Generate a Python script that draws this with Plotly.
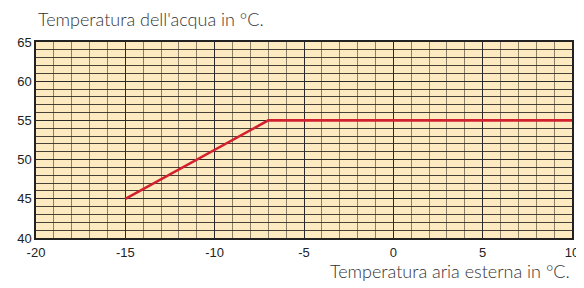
import plotly.graph_objects as go

x_air = [-15, -7, 10]
y_water = [45, 55, 55]
x_ticks = [-20, -15, -10, -5, 0, 5, 10]
x_labels = ["-20", "-15", "-10", "-5", "0", "5", "10"]
y_ticks = [40, 45, 50, 55, 60, 65]
y_labels = ["40", "45", "50", "55", "60", "65"]

fig = go.Figure()
fig.add_trace(go.Scatter(x=x_air, y=y_water, mode="lines",
                         line=dict(color="#d2202e", width=2.6), hoverinfo="skip"))

# page body has an 8px margin, so the figure is drawn at (8, 8)
fig.update_layout(
    width=576, height=280,
    margin=dict(l=28, r=12, t=34, b=50, autoexpand=False),
    paper_bgcolor="white", plot_bgcolor="#fdeac0",
    showlegend=False,
    font=dict(family="Liberation Sans, Arial", size=13, color="#222"),
)
fig.update_xaxes(
    range=[-20, 10], tickvals=x_ticks, ticktext=x_labels, ticks="", showgrid=True,
    automargin=False,
    gridcolor="#2a2a2a", gridwidth=1.3,
    minor=dict(dtick=1, showgrid=True, gridcolor="rgba(80,70,55,0.65)", gridwidth=1),
    showline=True, linecolor="#222", linewidth=1.5, mirror=True, zeroline=False,
    tickfont=dict(size=13, color="#222"), ticklabelstandoff=2,
)
fig.update_yaxes(
    range=[40, 65], tickvals=y_ticks, ticktext=y_labels, ticks="", showgrid=True,
    automargin=False,
    gridcolor="#2a2a2a", gridwidth=1.3,
    minor=dict(dtick=1, showgrid=True, gridcolor="rgba(40,35,30,0.85)", gridwidth=1),
    showline=True, linecolor="#222", linewidth=1.5, mirror=True, zeroline=False,
    tickfont=dict(size=13, color="#222"), ticklabelstandoff=0,
)
fig.add_annotation(text="Temperatura dell'acqua in °C.", xref="paper", yref="paper",
                   x=0.0, y=1.0, yshift=10, xanchor="left", yanchor="bottom",
                   showarrow=False,
                   font=dict(family="Lato, Open Sans", size=18, color="#333", weight=300))
fig.add_annotation(text="Temperatura aria esterna in °C.", xref="paper", yref="paper",
                   x=1.0, y=0, yshift=-20, xanchor="right", yanchor="top",
                   showarrow=False,
                   font=dict(family="Lato, Open Sans", size=18, color="#333", weight=300))
fig.write_html("out.html")
